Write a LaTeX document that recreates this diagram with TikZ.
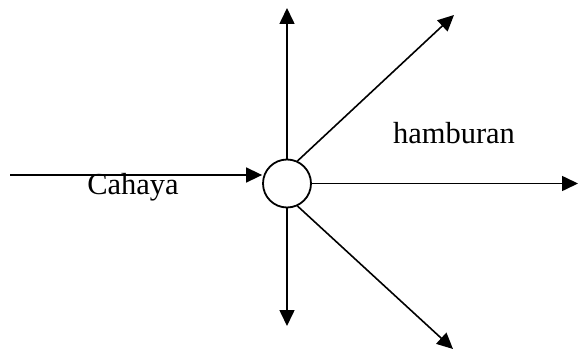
\documentclass[tikz,border=0pt]{standalone}
\usepackage{fontspec}
\setmainfont{Liberation Serif}
\usetikzlibrary{arrows.meta}
\begin{document}
\begin{tikzpicture}[x=1pt,y=-1pt,
  ray/.style={line width=1.6pt,-{Triangle[length=16pt,width=15pt]}},
  lbl/.style={font=\fontsize{30.5}{36}\selectfont,inner sep=0pt,anchor=base}]
\useasboundingbox (0,0) rectangle (578,350);
\node[circle,draw,line width=1.8pt,minimum size=48pt,inner sep=0pt] (c) at (287,183.5) {};
\coordinate (src) at (10,175);
\coordinate (tu) at (287,8);
\coordinate (td) at (287,326);
\coordinate (tr) at (578,183.5);
\coordinate (tur) at (454,15);
\coordinate (tdr) at (453,349);
\draw[ray] (src) -- (c.west |- src);
\draw[ray] (c.north) -- (tu);
\draw[ray] (c.south) -- (td);
\draw[ray] (c.east) -- (tr);
\draw[ray] (c.65) -- (tur);
\draw[ray] (c.-65) -- (tdr);
\node[lbl] (cah) at (133,194) {Cahaya};
\node[lbl] (ham) at (454,143) {hamburan};
\end{tikzpicture}
\end{document}
